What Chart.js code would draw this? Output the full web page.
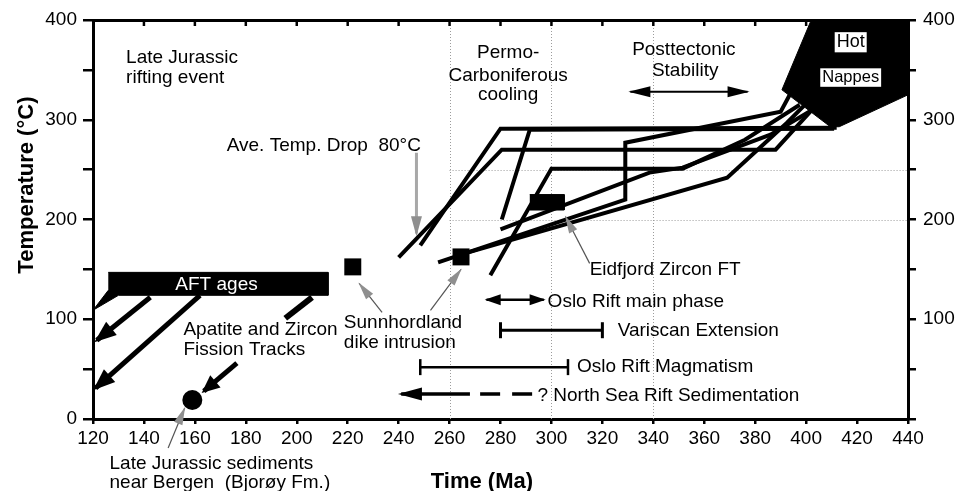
<!DOCTYPE html>
<html>
<head>
<meta charset="utf-8">
<script src="https://cdn.jsdelivr.net/npm/chart.js@4.4.1/dist/chart.umd.min.js"></script>
<style>
  html, body { margin: 0; padding: 0; background: #fff; }
  canvas { display: block; }
</style>
</head>
<body>
<canvas id="chart" width="957" height="491"></canvas>
<script>
const FONT = "'Liberation Sans', Arial, Helvetica, sans-serif";

// cooling paths: [time (Ma), temperature (°C)]
const path1 = [[240, 162], [280.5, 270], [388, 270], [403, 312]];
const path2 = [[248.5, 174], [280, 291], [412, 292]];
const path3 = [[280.5, 200], [291.5, 290], [411, 291]];
const path4 = [[276, 144], [300, 251], [351.5, 251], [376, 280], [397.5, 315]];
const path5 = [[255.5, 157], [329, 220], [329, 277], [390, 308], [394, 327]];
const path6 = [[266, 166], [369, 242], [392.5, 297], [399.5, 315]];
const path7 = [[280, 190], [338.5, 247], [351.5, 252], [386, 285], [402.5, 310]];

// filled shapes
const hotNappes = [[402, 400], [390.5, 330], [409.5, 293], [413, 293], [440, 325], [440, 400]];
const aftBox = [[126, 147], [212.3, 147], [212.3, 124], [130, 124], [120, 109], [126, 129]];
const eidfjordBox = [[291.5, 225], [305, 225], [305, 209.5], [291.5, 209.5]];

// point data
const sunnhordlandDikes = [[222, 152.5], [264.5, 162.5]];
const bergenSediments = [[159, 19]];

// arrows and ranges
const aftArrow1 = [[142.5, 122], [121.5, 79]];
const aftArrow2 = [[162, 124], [121, 31]];
const aftStub = [[206, 122], [195.5, 101]];
const fissionArrow = [[176.5, 56], [163.5, 28]];
const stabilityRange = [[331, 328], [377, 328]];
const osloMainPhase = [[274.5, 119.5], [297, 119.5]];
const variscanExt = [[280, 89], [320, 89]];
const osloMagmatism = [[248.5, 52], [306.5, 52]];
const northSeaSolid = [[268, 25], [241, 25]];
const northSeaDashed = [[272, 25], [292.5, 25]];

// grey pointer arrows
const tempDropArrow = [[247, 267], [247, 186]];
const dikeArrow1 = [[233.5, 107], [224.5, 136]];
const dikeArrow2 = [[252.5, 109], [264.5, 150]];
const eidfjordArrow = [[315, 156], [305.5, 203]];
const bergenArrow = [[149.5, -29], [156, 11]];

// dotted reference lines
const gridX = [260, 300, 340];
const gridY = [250, 200];

const notes = [
    { text: 'Late Jurassic', t: 133, T: 357 },
    { text: 'rifting event', t: 133, T: 337 },
    { text: 'Permo-', t: 283, T: 362, align: 'center' },
    { text: 'Carboniferous', t: 283, T: 339, align: 'center' },
    { text: 'cooling', t: 283, T: 320, align: 'center' },
    { text: 'Posttectonic', t: 352, T: 365, align: 'center' },
    { text: 'Stability', t: 352.5, T: 344, align: 'center' },
    { text: 'Hot', t: 417.5, T: 373, align: 'center', size: 18, box: true },
    { text: 'Nappes', t: 417.5, T: 338, align: 'center', size: 16.5, box: true },
    { text: 'Ave. Temp. Drop  80°C', t: 172.5, T: 269 },
    { text: 'AFT ages', t: 168.5, T: 129.5, align: 'center', color: '#fff' },
    { text: 'Apatite and Zircon', t: 155.5, T: 84 },
    { text: 'Fission Tracks', t: 155.5, T: 64 },
    { text: 'Sunnhordland', t: 218.5, T: 91 },
    { text: 'dike intrusion', t: 218.5, T: 71 },
    { text: 'Late Jurassic sediments', t: 126.5, T: -50 },
    { text: 'near Bergen  (Bjorøy Fm.)', t: 126.5, T: -69 },
    { text: 'Eidfjord Zircon FT', t: 315, T: 144 },
    { text: 'Oslo Rift main phase', t: 298.5, T: 112 },
    { text: 'Variscan Extension', t: 326, T: 83 },
    { text: 'Oslo Rift Magmatism', t: 310, T: 47 },
    { text: '? North Sea Rift Sedimentation', t: 294.5, T: 18 },
    { text: 'Time (Ma)', t: 272.7, T: -69, align: 'center', size: 22, bold: true },
    { text: 'Temperature (°C)', t: 96.4, T: 234.5, align: 'center', size: 22, bold: true, rotate: true }
];

const pts = arr => arr.map(([x, y]) => ({ x, y }));

function line(data, opts) {
    return Object.assign({
        data: pts(data),
        borderColor: '#000',
        borderWidth: 4,
        pointRadius: 0,
        fill: false,
        tension: 0,
        borderJoinStyle: 'miter',
        borderCapStyle: 'butt'
    }, opts || {});
}

function shape(data) {
    return line(data, { fill: 'shape', backgroundColor: '#000', borderWidth: 1 });
}

const GREY = '#8f8f8f';

const datasets = [
    shape(hotNappes),
    shape(aftBox),
    shape(eidfjordBox),
    line(path1), line(path2), line(path3), line(path4),
    line(path5), line(path6), line(path7),
    line(sunnhordlandDikes, { showLine: false, pointStyle: 'rect', pointRadius: 12, pointBackgroundColor: '#000', pointBorderWidth: 0 }),
    line(bergenSediments, { showLine: false, pointStyle: 'circle', pointRadius: 10, pointBackgroundColor: '#000', pointBorderWidth: 0 }),
    line(aftArrow1, { borderWidth: 5, heads: { end: true, len: 22, width: 17 } }),
    line(aftArrow2, { borderWidth: 5, heads: { end: true, len: 22, width: 17 } }),
    line(aftStub, { borderWidth: 6 }),
    line(fissionArrow, { borderWidth: 5, heads: { end: true, len: 18, width: 16 } }),
    line(stabilityRange, { borderWidth: 2, heads: { end: true, start: true, len: 22, width: 11 } }),
    line(osloMainPhase, { borderWidth: 2.5, heads: { end: true, start: true, len: 16, width: 11 } }),
    line(variscanExt, { borderWidth: 3, caps: 8 }),
    line(osloMagmatism, { borderWidth: 2.5, caps: 8 }),
    line(northSeaSolid, { borderWidth: 3.5, heads: { end: true, len: 24, width: 13 } }),
    line(northSeaDashed, { borderWidth: 3.5, borderDash: [20, 12] }),
    line(tempDropArrow, { borderWidth: 3, borderColor: '#a8a8a8', heads: { end: true, len: 20, width: 11, color: GREY } }),
    line(dikeArrow1, { borderWidth: 1.2, borderColor: '#555', heads: { end: true, len: 18, width: 9, color: GREY } }),
    line(dikeArrow2, { borderWidth: 1.2, borderColor: '#555', heads: { end: true, len: 18, width: 9, color: GREY } }),
    line(eidfjordArrow, { borderWidth: 1.2, borderColor: '#555', heads: { end: true, len: 18, width: 9, color: GREY } }),
    line(bergenArrow, { borderWidth: 1.2, borderColor: '#555', clip: false, heads: { end: true, len: 18, width: 9, color: GREY } })
];

function drawHead(ctx, tip, from, h, lw, color) {
    const a = Math.atan2(tip.y - from.y, tip.x - from.x);
    const c = Math.cos(a), s = Math.sin(a);
    const ext = lw * h.len / h.width * 0.5;
    const tx = tip.x + ext * c, ty = tip.y + ext * s;
    ctx.beginPath();
    ctx.moveTo(tx, ty);
    ctx.lineTo(tx - h.len * c - h.width / 2 * s, ty - h.len * s + h.width / 2 * c);
    ctx.lineTo(tx - h.len * c + h.width / 2 * s, ty - h.len * s - h.width / 2 * c);
    ctx.closePath();
    ctx.fillStyle = color;
    ctx.fill();
}

const overlay = {
    id: 'overlay',
    beforeDatasetsDraw(chart) {
        const { ctx, scales: { x, y } } = chart;
        ctx.save();
        ctx.strokeStyle = '#9c9c9c';
        ctx.lineWidth = 1;
        ctx.setLineDash([1, 2]);
        gridX.forEach(v => {
            const px = Math.round(x.getPixelForValue(v)) + 0.5;
            ctx.beginPath();
            ctx.moveTo(px, y.getPixelForValue(0));
            ctx.lineTo(px, y.getPixelForValue(392));
            ctx.stroke();
        });
        gridY.forEach(v => {
            const py = Math.round(y.getPixelForValue(v)) + 0.5;
            ctx.beginPath();
            ctx.moveTo(x.getPixelForValue(260), py);
            ctx.lineTo(x.getPixelForValue(440), py);
            ctx.stroke();
        });
        ctx.restore();
    },
    afterDatasetsDraw(chart) {
        const { ctx, scales: { x, y } } = chart;
        ctx.save();
        chart.data.datasets.forEach((ds, i) => {
            const p = chart.getDatasetMeta(i).data;
            if (ds.heads) {
                const color = ds.heads.color || ds.borderColor;
                if (ds.heads.end) drawHead(ctx, p[p.length - 1], p[p.length - 2], ds.heads, ds.borderWidth, color);
                if (ds.heads.start) drawHead(ctx, p[0], p[1], ds.heads, ds.borderWidth, color);
            }
            if (ds.caps) {
                ctx.strokeStyle = ds.borderColor;
                ctx.lineWidth = ds.borderWidth;
                [p[0], p[p.length - 1]].forEach(pt => {
                    ctx.beginPath();
                    ctx.moveTo(pt.x, pt.y - ds.caps);
                    ctx.lineTo(pt.x, pt.y + ds.caps);
                    ctx.stroke();
                });
            }
        });

        // inward ticks along the top frame
        ctx.strokeStyle = '#000';
        ctx.lineWidth = 2.5;
        for (let v = 140; v < 440; v += 20) {
            const px = x.getPixelForValue(v);
            ctx.beginPath();
            ctx.moveTo(px, chart.chartArea.top);
            ctx.lineTo(px, chart.chartArea.top + 6);
            ctx.stroke();
        }

        notes.forEach(n => {
            const px = x.getPixelForValue(n.t);
            const py = y.getPixelForValue(n.T);
            const size = n.size || 19;
            ctx.font = (n.bold ? 'bold ' : '') + size + 'px ' + FONT;
            ctx.textAlign = n.align || 'left';
            ctx.textBaseline = 'alphabetic';
            if (n.box) {
                const w = ctx.measureText(n.text).width;
                ctx.fillStyle = '#fff';
                ctx.fillRect(px - w / 2 - 2, py - size * 0.82, w + 4, size * 1.12);
            }
            ctx.fillStyle = n.color || '#000';
            if (n.rotate) {
                ctx.save();
                ctx.translate(px, py);
                ctx.rotate(-Math.PI / 2);
                ctx.fillText(n.text, 0, 0);
                ctx.restore();
            } else {
                ctx.fillText(n.text, px, py);
            }
        });
        ctx.restore();
    }
};

const tickFont = { family: FONT, size: 19 };

new Chart(document.getElementById('chart'), {
    type: 'line',
    data: { datasets },
    plugins: [overlay],
    options: {
        responsive: false,
        animation: false,
        devicePixelRatio: 1,
        layout: { padding: 0 },
        plugins: { legend: { display: false }, tooltip: { enabled: false } },
        scales: {
            x: {
                type: 'linear', position: 'bottom', min: 120, max: 440,
                ticks: { stepSize: 20, font: tickFont, color: '#000', padding: 3, maxRotation: 0, autoSkip: false },
                grid: { drawOnChartArea: false, tickLength: 5, color: '#000', lineWidth: 2.5 },
                border: { width: 3, color: '#000' },
                afterFit(s) { s.height = 72; }
            },
            x2: {
                type: 'linear', position: 'top', min: 120, max: 440,
                ticks: { display: false, stepSize: 20 },
                grid: { drawOnChartArea: false, drawTicks: false },
                border: { width: 3, color: '#000' },
                afterFit(s) { s.height = 20; }
            },
            y: {
                type: 'linear', position: 'left', min: 0, max: 400,
                ticks: { stepSize: 50, font: tickFont, color: '#000', padding: 6, callback: v => v % 100 === 0 ? v : '' },
                grid: { drawOnChartArea: false, tickLength: 10, color: '#000', lineWidth: 2.5 },
                border: { width: 3, color: '#000' },
                afterFit(s) { s.width = 93; }
            },
            y2: {
                type: 'linear', position: 'right', min: 0, max: 400,
                ticks: { stepSize: 50, font: tickFont, color: '#000', padding: 7, callback: v => v % 100 === 0 && v > 0 ? v : '' },
                grid: { drawOnChartArea: false, tickLength: 8, color: '#000', lineWidth: 2.5 },
                border: { width: 3, color: '#000' },
                afterFit(s) { s.width = 49; }
            }
        }
    }
});
</script>
</body>
</html>
